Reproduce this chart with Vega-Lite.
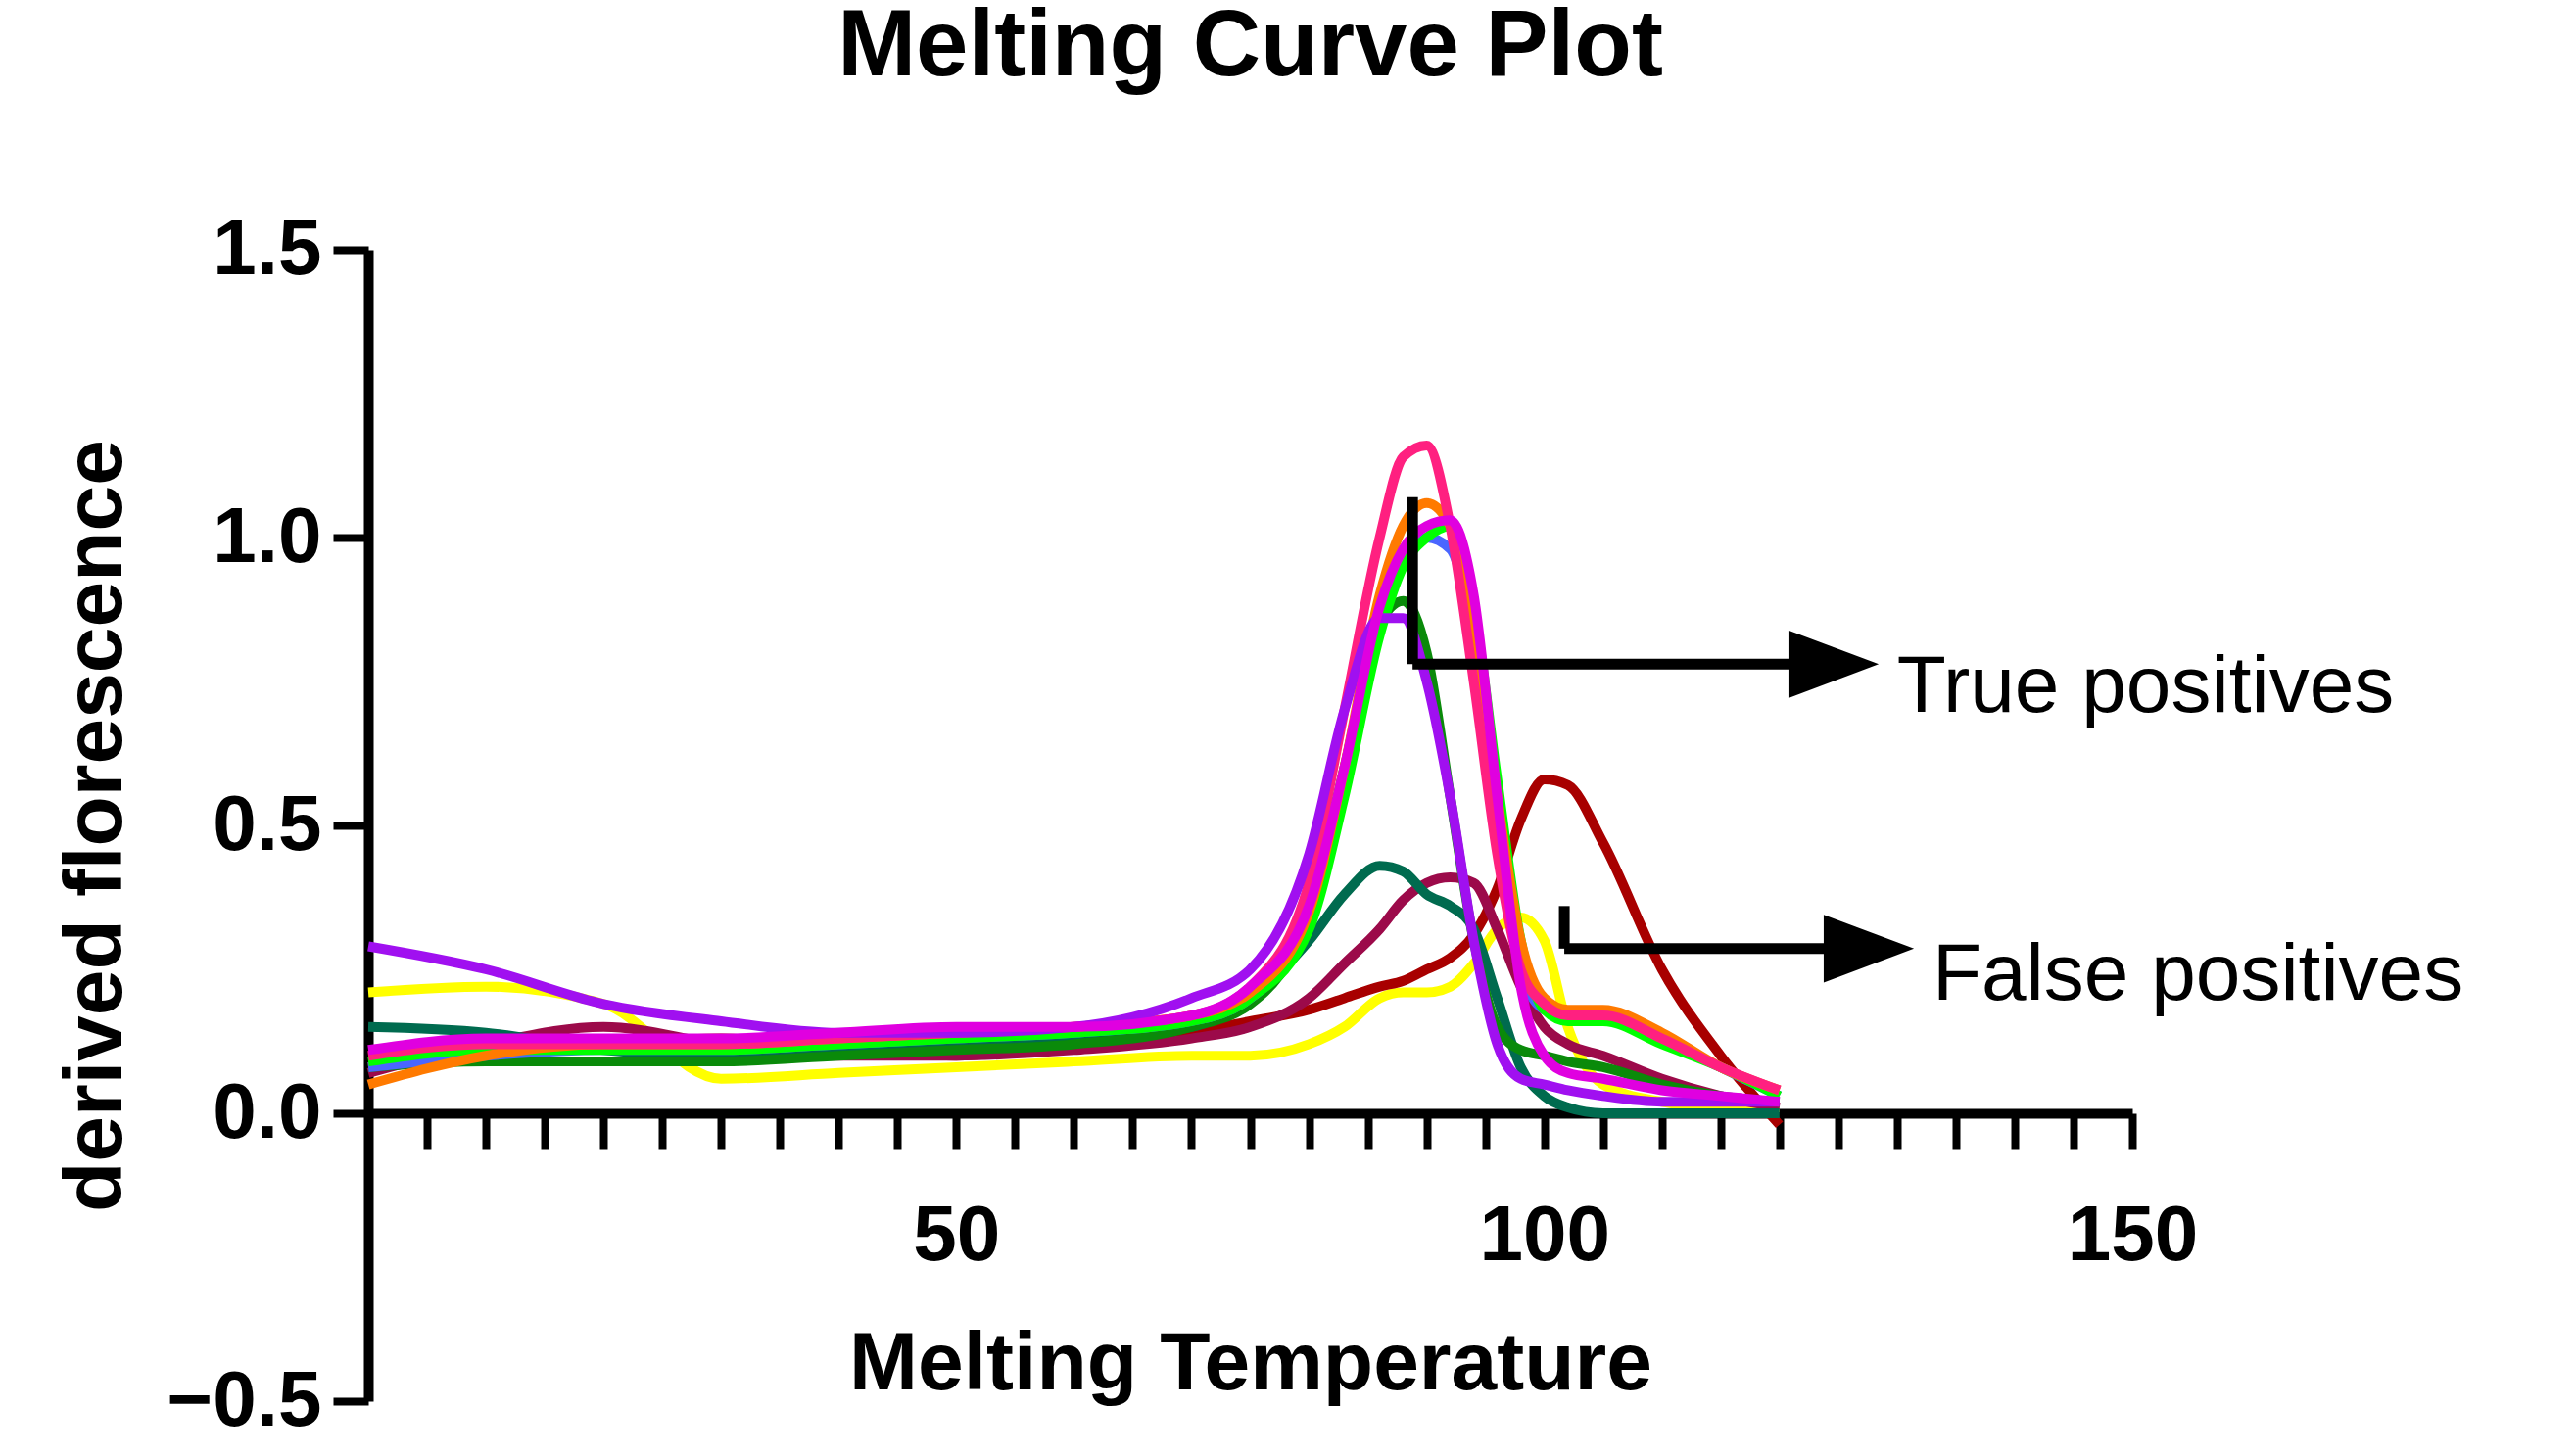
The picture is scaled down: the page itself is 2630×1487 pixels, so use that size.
{
  "$schema": "https://vega.github.io/schema/vega-lite/v6.json",
  "autosize": "none",
  "padding": {"left": 376, "top": 255, "right": 453, "bottom": 56},
  "width": 1801,
  "height": 1176,
  "background": "white",
  "title": {"text": "Melting Curve Plot", "font": "Liberation Sans", "fontSize": 96, "fontWeight": "bold", "offset": 118, "color": "black"},
  "datasets": {
    "curves": [
      {"s":"yellow","x":0,"y":0.21},{"s":"yellow","x":10,"y":0.22},{"s":"yellow","x":20,"y":0.19},{"s":"yellow","x":30,"y":0.06},{"s":"yellow","x":40,"y":0.07},{"s":"yellow","x":50,"y":0.08},{"s":"yellow","x":60,"y":0.09},{"s":"yellow","x":70,"y":0.10},{"s":"yellow","x":75,"y":0.10},{"s":"yellow","x":80,"y":0.12},{"s":"yellow","x":83,"y":0.15},{"s":"yellow","x":86,"y":0.20},{"s":"yellow","x":88,"y":0.21},{"s":"yellow","x":90,"y":0.21},{"s":"yellow","x":92,"y":0.22},{"s":"yellow","x":94,"y":0.26},{"s":"yellow","x":96,"y":0.32},{"s":"yellow","x":98,"y":0.34},{"s":"yellow","x":100,"y":0.30},{"s":"yellow","x":102,"y":0.15},{"s":"yellow","x":105,"y":0.05},{"s":"yellow","x":110,"y":0.02},{"s":"yellow","x":115,"y":0.01},{"s":"yellow","x":120,"y":0.01},
      {"s":"darkred","x":0,"y":0.08},{"s":"darkred","x":10,"y":0.11},{"s":"darkred","x":20,"y":0.12},{"s":"darkred","x":30,"y":0.13},{"s":"darkred","x":40,"y":0.11},{"s":"darkred","x":50,"y":0.10},{"s":"darkred","x":60,"y":0.12},{"s":"darkred","x":70,"y":0.14},{"s":"darkred","x":75,"y":0.16},{"s":"darkred","x":80,"y":0.18},{"s":"darkred","x":83,"y":0.20},{"s":"darkred","x":86,"y":0.22},{"s":"darkred","x":88,"y":0.23},{"s":"darkred","x":90,"y":0.25},{"s":"darkred","x":92,"y":0.27},{"s":"darkred","x":94,"y":0.31},{"s":"darkred","x":96,"y":0.39},{"s":"darkred","x":98,"y":0.51},{"s":"darkred","x":100,"y":0.58},{"s":"darkred","x":102,"y":0.57},{"s":"darkred","x":105,"y":0.47},{"s":"darkred","x":110,"y":0.25},{"s":"darkred","x":115,"y":0.10},{"s":"darkred","x":120,"y":-0.02},
      {"s":"maroon","x":0,"y":0.07},{"s":"maroon","x":10,"y":0.12},{"s":"maroon","x":20,"y":0.15},{"s":"maroon","x":30,"y":0.12},{"s":"maroon","x":40,"y":0.10},{"s":"maroon","x":50,"y":0.10},{"s":"maroon","x":60,"y":0.11},{"s":"maroon","x":70,"y":0.13},{"s":"maroon","x":75,"y":0.15},{"s":"maroon","x":80,"y":0.20},{"s":"maroon","x":83,"y":0.26},{"s":"maroon","x":86,"y":0.32},{"s":"maroon","x":88,"y":0.37},{"s":"maroon","x":90,"y":0.40},{"s":"maroon","x":92,"y":0.41},{"s":"maroon","x":94,"y":0.40},{"s":"maroon","x":96,"y":0.32},{"s":"maroon","x":98,"y":0.22},{"s":"maroon","x":100,"y":0.15},{"s":"maroon","x":102,"y":0.12},{"s":"maroon","x":105,"y":0.10},{"s":"maroon","x":110,"y":0.06},{"s":"maroon","x":115,"y":0.03},{"s":"maroon","x":120,"y":0.01},
      {"s":"teal","x":0,"y":0.15},{"s":"teal","x":10,"y":0.14},{"s":"teal","x":20,"y":0.11},{"s":"teal","x":30,"y":0.10},{"s":"teal","x":40,"y":0.11},{"s":"teal","x":50,"y":0.12},{"s":"teal","x":60,"y":0.13},{"s":"teal","x":70,"y":0.15},{"s":"teal","x":75,"y":0.20},{"s":"teal","x":80,"y":0.30},{"s":"teal","x":83,"y":0.38},{"s":"teal","x":86,"y":0.43},{"s":"teal","x":88,"y":0.42},{"s":"teal","x":90,"y":0.38},{"s":"teal","x":92,"y":0.36},{"s":"teal","x":94,"y":0.32},{"s":"teal","x":96,"y":0.20},{"s":"teal","x":98,"y":0.08},{"s":"teal","x":100,"y":0.03},{"s":"teal","x":102,"y":0.01},{"s":"teal","x":105,"y":0.0},{"s":"teal","x":110,"y":0.0},{"s":"teal","x":115,"y":0.0},{"s":"teal","x":120,"y":0.0},
      {"s":"green","x":0,"y":0.08},{"s":"green","x":10,"y":0.09},{"s":"green","x":20,"y":0.09},{"s":"green","x":30,"y":0.09},{"s":"green","x":40,"y":0.10},{"s":"green","x":50,"y":0.11},{"s":"green","x":60,"y":0.12},{"s":"green","x":70,"y":0.15},{"s":"green","x":75,"y":0.19},{"s":"green","x":80,"y":0.35},{"s":"green","x":83,"y":0.60},{"s":"green","x":86,"y":0.85},{"s":"green","x":88,"y":0.89},{"s":"green","x":90,"y":0.80},{"s":"green","x":92,"y":0.55},{"s":"green","x":94,"y":0.30},{"s":"green","x":96,"y":0.15},{"s":"green","x":98,"y":0.11},{"s":"green","x":100,"y":0.10},{"s":"green","x":102,"y":0.09},{"s":"green","x":105,"y":0.08},{"s":"green","x":110,"y":0.05},{"s":"green","x":115,"y":0.03},{"s":"green","x":120,"y":0.02},
      {"s":"blue","x":0,"y":0.08},{"s":"blue","x":10,"y":0.10},{"s":"blue","x":20,"y":0.11},{"s":"blue","x":30,"y":0.11},{"s":"blue","x":40,"y":0.12},{"s":"blue","x":50,"y":0.13},{"s":"blue","x":60,"y":0.14},{"s":"blue","x":70,"y":0.16},{"s":"blue","x":75,"y":0.20},{"s":"blue","x":80,"y":0.33},{"s":"blue","x":83,"y":0.57},{"s":"blue","x":86,"y":0.85},{"s":"blue","x":88,"y":0.96},{"s":"blue","x":90,"y":1.00},{"s":"blue","x":92,"y":0.98},{"s":"blue","x":94,"y":0.82},{"s":"blue","x":96,"y":0.50},{"s":"blue","x":98,"y":0.25},{"s":"blue","x":100,"y":0.18},{"s":"blue","x":102,"y":0.17},{"s":"blue","x":105,"y":0.17},{"s":"blue","x":110,"y":0.13},{"s":"blue","x":115,"y":0.08},{"s":"blue","x":120,"y":0.03},
      {"s":"lime","x":0,"y":0.09},{"s":"lime","x":10,"y":0.11},{"s":"lime","x":20,"y":0.11},{"s":"lime","x":30,"y":0.11},{"s":"lime","x":40,"y":0.12},{"s":"lime","x":50,"y":0.13},{"s":"lime","x":60,"y":0.14},{"s":"lime","x":70,"y":0.16},{"s":"lime","x":75,"y":0.20},{"s":"lime","x":80,"y":0.32},{"s":"lime","x":83,"y":0.55},{"s":"lime","x":86,"y":0.83},{"s":"lime","x":88,"y":0.95},{"s":"lime","x":90,"y":1.00},{"s":"lime","x":92,"y":1.02},{"s":"lime","x":94,"y":0.88},{"s":"lime","x":96,"y":0.58},{"s":"lime","x":98,"y":0.30},{"s":"lime","x":100,"y":0.18},{"s":"lime","x":102,"y":0.16},{"s":"lime","x":105,"y":0.16},{"s":"lime","x":110,"y":0.12},{"s":"lime","x":115,"y":0.08},{"s":"lime","x":120,"y":0.03},
      {"s":"orange","x":0,"y":0.05},{"s":"orange","x":10,"y":0.10},{"s":"orange","x":20,"y":0.12},{"s":"orange","x":30,"y":0.12},{"s":"orange","x":40,"y":0.13},{"s":"orange","x":50,"y":0.14},{"s":"orange","x":60,"y":0.15},{"s":"orange","x":70,"y":0.17},{"s":"orange","x":75,"y":0.21},{"s":"orange","x":80,"y":0.35},{"s":"orange","x":83,"y":0.60},{"s":"orange","x":86,"y":0.90},{"s":"orange","x":88,"y":1.02},{"s":"orange","x":90,"y":1.06},{"s":"orange","x":92,"y":1.02},{"s":"orange","x":94,"y":0.85},{"s":"orange","x":96,"y":0.55},{"s":"orange","x":98,"y":0.30},{"s":"orange","x":100,"y":0.20},{"s":"orange","x":102,"y":0.18},{"s":"orange","x":105,"y":0.18},{"s":"orange","x":110,"y":0.14},{"s":"orange","x":115,"y":0.08},{"s":"orange","x":120,"y":0.04},
      {"s":"pink","x":0,"y":0.10},{"s":"pink","x":10,"y":0.12},{"s":"pink","x":20,"y":0.12},{"s":"pink","x":30,"y":0.12},{"s":"pink","x":40,"y":0.13},{"s":"pink","x":50,"y":0.14},{"s":"pink","x":60,"y":0.15},{"s":"pink","x":70,"y":0.17},{"s":"pink","x":75,"y":0.22},{"s":"pink","x":80,"y":0.40},{"s":"pink","x":83,"y":0.70},{"s":"pink","x":86,"y":1.00},{"s":"pink","x":88,"y":1.14},{"s":"pink","x":90,"y":1.16},{"s":"pink","x":92,"y":1.02},{"s":"pink","x":94,"y":0.75},{"s":"pink","x":96,"y":0.45},{"s":"pink","x":98,"y":0.25},{"s":"pink","x":100,"y":0.19},{"s":"pink","x":102,"y":0.17},{"s":"pink","x":105,"y":0.17},{"s":"pink","x":110,"y":0.13},{"s":"pink","x":115,"y":0.08},{"s":"pink","x":120,"y":0.04},
      {"s":"purple","x":0,"y":0.29},{"s":"purple","x":10,"y":0.25},{"s":"purple","x":20,"y":0.19},{"s":"purple","x":30,"y":0.16},{"s":"purple","x":40,"y":0.14},{"s":"purple","x":50,"y":0.14},{"s":"purple","x":60,"y":0.15},{"s":"purple","x":70,"y":0.20},{"s":"purple","x":75,"y":0.25},{"s":"purple","x":80,"y":0.45},{"s":"purple","x":83,"y":0.70},{"s":"purple","x":86,"y":0.86},{"s":"purple","x":88,"y":0.86},{"s":"purple","x":90,"y":0.75},{"s":"purple","x":92,"y":0.55},{"s":"purple","x":94,"y":0.30},{"s":"purple","x":96,"y":0.12},{"s":"purple","x":98,"y":0.06},{"s":"purple","x":100,"y":0.05},{"s":"purple","x":102,"y":0.04},{"s":"purple","x":105,"y":0.03},{"s":"purple","x":110,"y":0.02},{"s":"purple","x":115,"y":0.02},{"s":"purple","x":120,"y":0.02},
      {"s":"magenta","x":0,"y":0.11},{"s":"magenta","x":10,"y":0.13},{"s":"magenta","x":20,"y":0.13},{"s":"magenta","x":30,"y":0.13},{"s":"magenta","x":40,"y":0.14},{"s":"magenta","x":50,"y":0.15},{"s":"magenta","x":60,"y":0.15},{"s":"magenta","x":70,"y":0.17},{"s":"magenta","x":75,"y":0.22},{"s":"magenta","x":80,"y":0.36},{"s":"magenta","x":83,"y":0.60},{"s":"magenta","x":86,"y":0.88},{"s":"magenta","x":88,"y":0.98},{"s":"magenta","x":90,"y":1.02},{"s":"magenta","x":92,"y":1.03},{"s":"magenta","x":94,"y":0.90},{"s":"magenta","x":96,"y":0.55},{"s":"magenta","x":98,"y":0.22},{"s":"magenta","x":100,"y":0.10},{"s":"magenta","x":102,"y":0.07},{"s":"magenta","x":105,"y":0.06},{"s":"magenta","x":110,"y":0.04},{"s":"magenta","x":115,"y":0.03},{"s":"magenta","x":120,"y":0.02}
    ],
    "segments": [
      {"x":88.8,"y":1.07,"x2":88.8,"y2":0.78},
      {"x":88.8,"y":0.78,"x2":121,"y2":0.78},
      {"x":101.7,"y":0.36,"x2":101.7,"y2":0.286},
      {"x":101.7,"y":0.286,"x2":124,"y2":0.286}
    ],
    "heads": [
      {"x":124.6,"y":0.78},
      {"x":127.6,"y":0.286}
    ],
    "labels": [
      {"x":130,"y":0.74,"text":"True positives"},
      {"x":133,"y":0.24,"text":"False positives"}
    ]
  },
  "layer": [
    {
      "data": {"name": "curves"},
      "mark": {"type": "line", "strokeWidth": 10, "interpolate": "monotone", "clip": false},
      "encoding": {
        "x": {"field": "x", "type": "quantitative", "scale": {"domain": [0, 150], "nice": false},
          "axis": {"values": [0,5,10,15,20,25,30,35,40,45,50,55,60,65,70,75,80,85,90,95,100,105,110,115,120,125,130,135,140,145,150],
            "labelExpr": "datum.value % 50 == 0 && datum.value > 0 ? datum.label : ''",
            "offset": -294, "title": "Melting Temperature", "titlePadding": 50, "labelPadding": 50}},
        "y": {"field": "y", "type": "quantitative", "scale": {"domain": [-0.5, 1.5], "nice": false},
          "axis": {"values": [-0.5, 0, 0.5, 1, 1.5], "format": ".1f", "title": "derived florescence", "titlePadding": 35, "labelPadding": 12}},
        "detail": {"field": "s"},
        "color": {"field": "s", "type": "nominal", "legend": null,
          "scale": {"domain": ["yellow","darkred","maroon","teal","green","blue","lime","orange","pink","purple","magenta"],
            "range": ["#ffff00","#a80000","#9c0a4a","#006b4f","#0a8a0a","#4a66ff","#00ff00","#ff7a00","#ff2080","#a010f0","#e000e0"]}}
      }
    },
    {
      "data": {"name": "segments"},
      "mark": {"type": "rule", "strokeWidth": 11, "color": "black", "strokeCap": "butt"},
      "encoding": {
        "x": {"field": "x", "type": "quantitative"},
        "y": {"field": "y", "type": "quantitative"},
        "x2": {"field": "x2"},
        "y2": {"field": "y2"}
      }
    },
    {
      "data": {"name": "heads"},
      "mark": {"type": "point", "shape": "M-1,-0.75L1,0L-1,0.75Z", "filled": true, "color": "black", "opacity": 1, "size": 8500},
      "encoding": {
        "x": {"field": "x", "type": "quantitative"},
        "y": {"field": "y", "type": "quantitative"}
      }
    },
    {
      "data": {"name": "labels"},
      "mark": {"type": "text", "align": "left", "baseline": "middle", "font": "Liberation Sans", "fontSize": 82, "color": "black"},
      "encoding": {
        "x": {"field": "x", "type": "quantitative"},
        "y": {"field": "y", "type": "quantitative"},
        "text": {"field": "text"}
      }
    }
  ],
  "config": {
    "view": {"stroke": null},
    "axis": {
      "grid": false, "domainColor": "black", "domainWidth": 10, "tickColor": "black", "tickWidth": 8, "tickSize": 36,
      "labelFont": "Liberation Sans", "labelFontSize": 80, "labelFontWeight": "bold", "labelColor": "black",
      "titleFont": "Liberation Sans", "titleFontSize": 84, "titleFontWeight": "bold", "titleColor": "black",
      "labelOverlap": false, "labelFlush": false
    }
  }
}
